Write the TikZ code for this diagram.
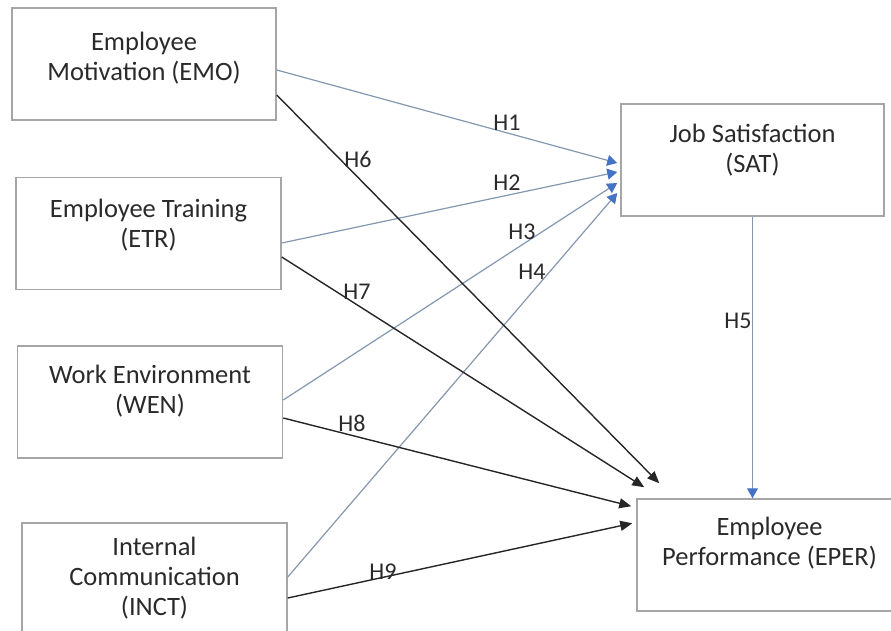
\documentclass[tikz,border=0pt]{standalone}
\usepackage{fontspec}
\setmainfont{Carlito}
\usetikzlibrary{arrows.meta}
\definecolor{boxline}{HTML}{A6A6A6}
\definecolor{satline}{HTML}{8497B0}
\definecolor{sathead}{HTML}{4472C4}
\definecolor{perfline}{HTML}{262626}
\definecolor{txt}{HTML}{2A2A2A}

\begin{document}
\begin{tikzpicture}[x=1pt,y=-1pt,
  box/.style={draw=boxline, line width=1.5pt, minimum width=265pt,
    minimum height=112pt, inner sep=0pt},
  boxtext/.style={anchor=north, align=center, inner sep=0pt, text=txt,
    font=\fontsize{26.5}{30}\selectfont},
  hyp/.style={text=txt, inner sep=0pt, font=\fontsize{24}{28}\selectfont},
  tosat/.style={draw=satline, line width=1.2pt,
    -{Triangle[length=10pt,width=11pt,color=sathead]}},
  toperf/.style={draw=perfline, line width=1.4pt,
    -{Triangle[length=12pt,width=10pt]}}]

\useasboundingbox (0,0) rectangle (891,631);
\clip (0,0) rectangle (891,631);

% constructs
\node[box, minimum width=264pt] (emo) at (144,64) {};
\node[box] (etr) at (148.5,233.5) {};
\node[box] (wen) at (150,402) {};
\node[box] (inct) at (154.5,579) {};
\node[box, minimum width=263pt] (sat) at (752.5,160) {};
\node[box] (eper) at (769.5,555) {};

\node[boxtext] (emo-t) at ([yshift=-25pt]emo.north) {Employee\\Motivation (EMO)};
\node[boxtext] (etr-t) at ([yshift=-22pt]etr.north) {Employee Training\\(ETR)};
\node[boxtext] (wen-t) at ([yshift=-20pt]wen.north) {Work Environment\\(WEN)};
\node[boxtext] (inct-t) at ([yshift=-15pt]inct.north) {Internal\\Communication\\(INCT)};
\node[boxtext] (sat-t) at ([yshift=-21pt]sat.north) {Job Satisfaction\\(SAT)};
\node[boxtext] (eper-t) at ([yshift=-19pt]eper.north) {Employee\\Performance (EPER)};

% paths to job satisfaction
\draw[tosat] ([yshift=-6pt]emo.east) -- ([xshift=-3pt,yshift=-3pt]sat.west);
\draw[tosat] ([yshift=-9.5pt]etr.east) -- ([xshift=-3pt,yshift=-12pt]sat.west);
\draw[tosat] ([yshift=2pt]wen.east) -- ([xshift=-3pt,yshift=-23pt]sat.west);
\draw[tosat] ([yshift=2pt]inct.east) -- ([xshift=-3pt,yshift=-33pt]sat.west);
\draw[tosat] (sat.south) -- (sat.south |- eper.north);

% paths to employee performance
\draw[toperf] ([yshift=-31pt]emo.east) -- ([xshift=23pt,yshift=15pt]eper.north west);
\draw[toperf] ([yshift=-23.5pt]etr.east) -- ([xshift=8pt,yshift=11pt]eper.north west);
\draw[toperf] ([yshift=-16pt]wen.east) -- ([xshift=-5pt,yshift=-8pt]eper.north west);
\draw[toperf] ([yshift=-19pt]inct.east) -- ([xshift=-4pt,yshift=-25pt]eper.north west);

% hypothesis labels
\node[hyp] (h1) at (507,123) {H1};
\node[hyp] (h2) at (507,183) {H2};
\node[hyp] (h3) at (522,232) {H3};
\node[hyp] (h4) at (532,272) {H4};
\node[hyp] (h5) at (738,321) {H5};
\node[hyp] (h6) at (358,159) {H6};
\node[hyp] (h7) at (357,292) {H7};
\node[hyp] (h8) at (352,423) {H8};
\node[hyp] (h9) at (383,572) {H9};
\end{tikzpicture}
\end{document}
